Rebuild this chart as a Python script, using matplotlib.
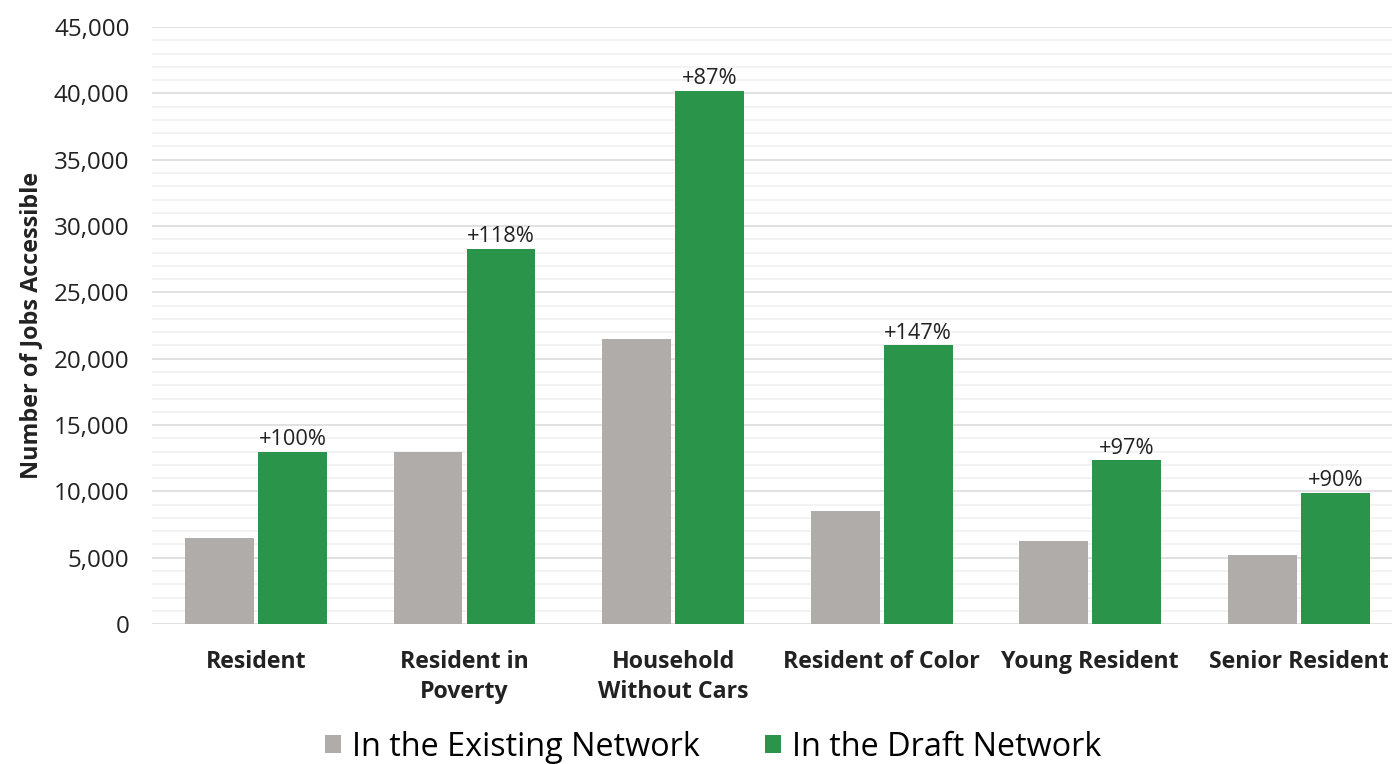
import matplotlib
matplotlib.use("Agg")
import matplotlib.pyplot as plt
from matplotlib.ticker import MultipleLocator, FuncFormatter
import numpy as np

categories = ["Resident", "Resident in\nPoverty", "Household\nWithout Cars",
              "Resident of Color", "Young Resident", "Senior Resident"]
existing = [6500, 13000, 21500, 8500, 6270, 5200]
draft = [13000, 28300, 40200, 21000, 12350, 9900]
pct_labels = ["+100%", "+118%", "+87%", "+147%", "+97%", "+90%"]

gray = "#b0acaa"
green = "#29944a"

plt.rcParams['font.family'] = ['Open Sans', 'DejaVu Sans']

fig = plt.figure(figsize=(13.92, 7.64), dpi=100)
ax = fig.add_axes([0.109, 0.1832, 0.899, 0.7814])

x = np.arange(len(categories))
w = 0.33
gap = 0.01
ax.bar(x - w / 2 - gap, existing, w, color=gray, label="In the Existing Network", zorder=3)
bars = ax.bar(x + w / 2 + gap, draft, w, color=green, label="In the Draft Network", zorder=3)

for b, txt in zip(bars, pct_labels):
    ax.annotate(txt, (b.get_x() + b.get_width() / 2, b.get_height()),
                xytext=(0, 1), textcoords="offset points",
                ha="center", va="bottom", fontsize=15.7, color="#222222")

ax.set_xlim(-0.5, len(categories) - 0.5)
ax.set_ylim(0, 45000)
ax.yaxis.set_major_locator(MultipleLocator(5000))
ax.yaxis.set_minor_locator(MultipleLocator(1000))
ax.yaxis.set_major_formatter(FuncFormatter(lambda v, p: f"{int(v):,}"))
ax.grid(axis="y", which="major", color="#dedede", linewidth=1.3, zorder=0)
ax.grid(axis="y", which="minor", color="#f0f0f0", linewidth=1.1, zorder=0)
for s in ax.spines.values():
    s.set_visible(False)
ax.tick_params(axis="both", which="both", length=0)
ax.tick_params(axis="y", labelsize=17.4, labelcolor="#222222", pad=16)

ax.set_xticks(x)
ax.set_xticklabels(categories, fontsize=16.7, fontweight="bold",
                   color="#222222", linespacing=1.3)
ax.tick_params(axis="x", pad=19)

ax.set_ylabel("Number of Jobs Accessible", fontsize=16.8, fontweight="bold",
              color="#222222", labelpad=8)

fig.legend(loc="center", bbox_to_anchor=(713 / 1392, 1 - 747 / 764),
           ncol=2, frameon=False, fontsize=23.3, handlelength=0.5,
           handleheight=0.5, handletextpad=0.35, columnspacing=2.0)

fig.savefig("out.png", dpi=100)
